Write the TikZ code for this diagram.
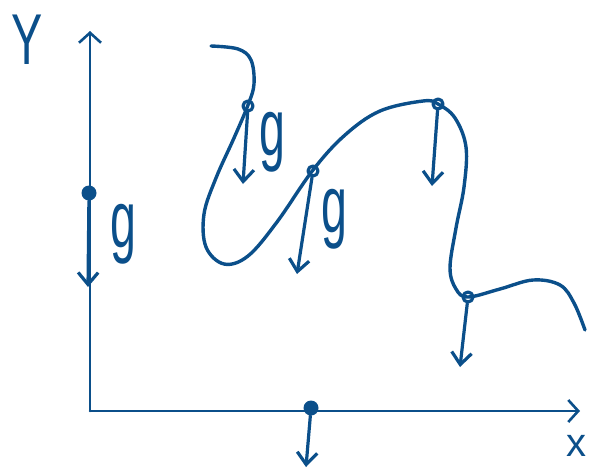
\documentclass[tikz,border=0pt]{standalone}
\usepackage{fontspec}
\setmainfont{Liberation Sans}
\usetikzlibrary{arrows.meta}
\definecolor{ink}{HTML}{0B4F8A}
\begin{document}
\begin{tikzpicture}[x=1pt,y=-1pt, line cap=round, line join=round,
  stroke/.style={ink, line width=3.4pt},
  axis/.style={ink, line width=2.6pt, -{Straight Barb[length=10pt,width=22pt,line width=2.6pt]}},
  force/.style={ink, line width=3.2pt, -{Straight Barb[length=12pt,width=20pt,line width=3.2pt]}},
  pt/.style={circle, draw=ink, line width=3.2pt, inner sep=0pt, minimum size=10pt},
  dot/.style={circle, fill=ink, inner sep=0pt, minimum size=15pt},
  glab/.style={text=ink, inner sep=0pt, font=\fontsize{62}{62}\selectfont},
  axlab/.style={text=ink, inner sep=0pt}]
\useasboundingbox (0,0) rectangle (602,472);
% axes
\coordinate (O) at (90,411);
\coordinate (ytop) at (90,31);
\coordinate (xend) at (580,411);
\draw[axis] (O) -- (ytop);
\draw[axis] (O) -- (xend);
\node[axlab, font=\fontsize{72}{72}\selectfont] (Ylab) at (27,40) {\scalebox{0.65}[1]{Y}};
\node[axlab, font=\fontsize{40}{40}\selectfont] (Xlab) at (576,446) {x};
% curve
\draw[stroke] plot[smooth, tension=0.6] coordinates {(211,46) (238,49) (251,60) (254,84) (248,105) (234,138) (216,178) (204,214) (206,247) (224,264) (248,256) (277,222) (313,170) (345,135) (380,111) (423,101) (438,104) (455,118) (466,147) (464,187) (456,228) (450,268) (456,289) (468,297) (500,289) (533,280) (560,285) (574,303) (585,330)};
% points
\node[dot] (p0) at (89,193) {};
\node[pt] (p1) at (248,106) {};
\node[pt] (p2) at (313,171) {};
\node[pt] (p3) at (438,104) {};
\node[pt] (p4) at (468,297) {};
\node[dot] (p5) at (311,408) {};
% arrow ends
\coordinate (e0) at (88,287);
\coordinate (e1) at (243,184);
\coordinate (e2) at (297,274);
\coordinate (e3) at (432,186);
\coordinate (e4) at (460,367);
\coordinate (e5) at (306,467);
\draw[force] (p0) -- (e0);
\draw[force] (p1) -- (e1);
\draw[force] (p2) -- (e2);
\draw[force] (p3) -- (e3);
\draw[force] (p4) -- (e4);
\draw[force] (p5) -- (e5);
% labels
\node[glab] (g0) at (123,234) {\scalebox{0.75}[1.3]{g}};
\node[glab] (g1) at (272,142) {\scalebox{0.75}[1.3]{g}};
\node[glab] (g2) at (334,219) {\scalebox{0.75}[1.3]{g}};
\end{tikzpicture}
\end{document}
